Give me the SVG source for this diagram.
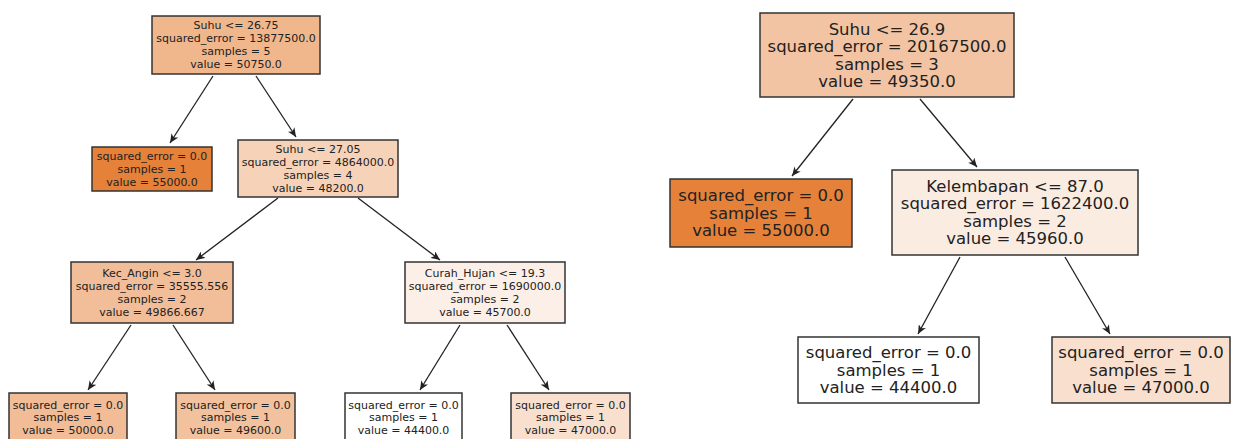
<svg xmlns="http://www.w3.org/2000/svg" width="1235" height="439" viewBox="0 0 1235 439">
<defs>
<style>
.box{stroke:#333;stroke-width:1.5}
.t{font-family:"DejaVu Sans",sans-serif;fill:#222;text-anchor:middle;dominant-baseline:central}
.s{font-size:11px}
.l{font-size:16.5px}
.e{stroke:#222;stroke-width:1.3;fill:none;marker-end:url(#ah)}
</style>
<marker id="ah" markerUnits="userSpaceOnUse" markerWidth="10" markerHeight="8" refX="9" refY="4" orient="auto">
<path d="M0,0 L9,4 L0,8 L2.5,4 Z" fill="#222"/>
</marker>
</defs>
<rect width="1235" height="439" fill="#fff"/>
<g id="connectors">
<line class="e" x1="213" y1="76" x2="170" y2="143"/>
<line class="e" x1="256" y1="76" x2="296" y2="137"/>
<line class="e" x1="278" y1="198" x2="196" y2="260"/>
<line class="e" x1="358" y1="198" x2="440" y2="260"/>
<line class="e" x1="131" y1="325" x2="88" y2="390"/>
<line class="e" x1="173" y1="325" x2="215" y2="390"/>
<line class="e" x1="460" y1="325" x2="420" y2="390"/>
<line class="e" x1="507" y1="325" x2="549" y2="390"/>
<line class="e" x1="853" y1="99" x2="792" y2="176"/>
<line class="e" x1="920" y1="99" x2="977" y2="167"/>
<line class="e" x1="960" y1="257" x2="918" y2="334"/>
<line class="e" x1="1065" y1="257" x2="1110" y2="334"/>
</g>
<g id="L0">
<rect class="box" x="152" y="16" width="168" height="58" fill="#f0b68c"/>
<text class="t s" x="236" y="25.5">Suhu &lt;= 26.75</text>
<text class="t s" x="236" y="38.5">squared_error = 13877500.0</text>
<text class="t s" x="236" y="51.5">samples = 5</text>
<text class="t s" x="236" y="64">value = 50750.0</text>
</g>
<g id="L1">
<rect class="box" x="92" y="147" width="120" height="44" fill="#e58139"/>
<text class="t s" x="152" y="156">squared_error = 0.0</text>
<text class="t s" x="152" y="169">samples = 1</text>
<text class="t s" x="152" y="182">value = 55000.0</text>
</g>
<g id="L2">
<rect class="box" x="238" y="140" width="160" height="57" fill="#f6d2b8"/>
<text class="t s" x="318" y="149">Suhu &lt;= 27.05</text>
<text class="t s" x="318" y="162">squared_error = 4864000.0</text>
<text class="t s" x="318" y="175">samples = 4</text>
<text class="t s" x="318" y="188">value = 48200.0</text>
</g>
<g id="L3">
<rect class="box" x="71" y="262" width="162" height="61" fill="#f2be99"/>
<text class="t s" x="152" y="273">Kec_Angin &lt;= 3.0</text>
<text class="t s" x="152" y="286">squared_error = 35555.556</text>
<text class="t s" x="152" y="299">samples = 2</text>
<text class="t s" x="152" y="312">value = 49866.667</text>
</g>
<g id="L4">
<rect class="box" x="405" y="262" width="160" height="61" fill="#fcefe7"/>
<text class="t s" x="485" y="273">Curah_Hujan &lt;= 19.3</text>
<text class="t s" x="485" y="286">squared_error = 1690000.0</text>
<text class="t s" x="485" y="299">samples = 2</text>
<text class="t s" x="485" y="312">value = 45700.0</text>
</g>
<g id="L5">
<rect class="box" x="9" y="393" width="118" height="50" fill="#f1bc96"/>
<text class="t s" x="68" y="405">squared_error = 0.0</text>
<text class="t s" x="68" y="417.5">samples = 1</text>
<text class="t s" x="68" y="430">value = 50000.0</text>
</g>
<g id="L6">
<rect class="box" x="176" y="393" width="119" height="50" fill="#f2c19e"/>
<text class="t s" x="235.5" y="405">squared_error = 0.0</text>
<text class="t s" x="235.5" y="417.5">samples = 1</text>
<text class="t s" x="235.5" y="430">value = 49600.0</text>
</g>
<g id="L7">
<rect class="box" x="345" y="393" width="117" height="50" fill="#ffffff"/>
<text class="t s" x="403.5" y="405">squared_error = 0.0</text>
<text class="t s" x="403.5" y="417.5">samples = 1</text>
<text class="t s" x="403.5" y="430">value = 44400.0</text>
</g>
<g id="L8">
<rect class="box" x="511" y="393" width="119" height="50" fill="#f9e0ce"/>
<text class="t s" x="570.5" y="405">squared_error = 0.0</text>
<text class="t s" x="570.5" y="417.5">samples = 1</text>
<text class="t s" x="570.5" y="430">value = 47000.0</text>
</g>
<g id="R0">
<rect class="box" x="760" y="13" width="254" height="84" fill="#f3c4a3"/>
<text class="t l" x="887" y="29">Suhu &lt;= 26.9</text>
<text class="t l" x="887" y="46.5">squared_error = 20167500.0</text>
<text class="t l" x="887" y="64">samples = 3</text>
<text class="t l" x="887" y="81.5">value = 49350.0</text>
</g>
<g id="R1">
<rect class="box" x="670" y="179" width="182" height="68" fill="#e58139"/>
<text class="t l" x="761" y="195.5">squared_error = 0.0</text>
<text class="t l" x="761" y="213">samples = 1</text>
<text class="t l" x="761" y="230.5">value = 55000.0</text>
</g>
<g id="R2">
<rect class="box" x="892" y="170" width="246" height="85" fill="#fbece2"/>
<text class="t l" x="1015" y="186.25">Kelembapan &lt;= 87.0</text>
<text class="t l" x="1015" y="203.75">squared_error = 1622400.0</text>
<text class="t l" x="1015" y="221.25">samples = 2</text>
<text class="t l" x="1015" y="238.75">value = 45960.0</text>
</g>
<g id="R3">
<rect class="box" x="798" y="337" width="181" height="66" fill="#ffffff"/>
<text class="t l" x="888.5" y="352.5">squared_error = 0.0</text>
<text class="t l" x="888.5" y="370">samples = 1</text>
<text class="t l" x="888.5" y="387.5">value = 44400.0</text>
</g>
<g id="R4">
<rect class="box" x="1052" y="337" width="178" height="66" fill="#f9e0ce"/>
<text class="t l" x="1141" y="352.5">squared_error = 0.0</text>
<text class="t l" x="1141" y="370">samples = 1</text>
<text class="t l" x="1141" y="387.5">value = 47000.0</text>
</g>
</svg>
